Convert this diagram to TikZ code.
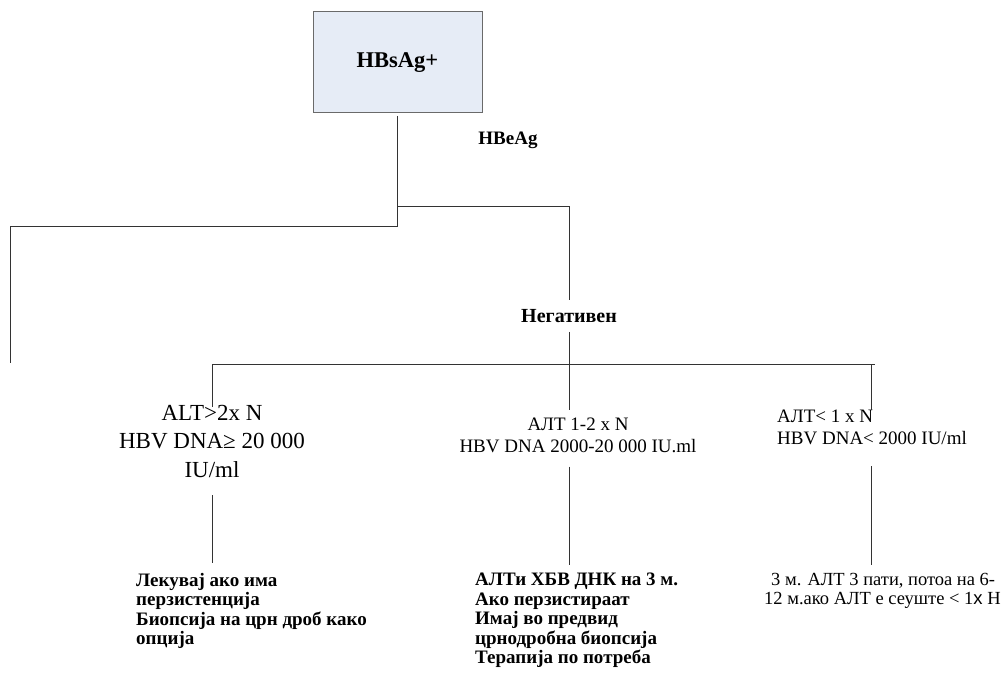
\documentclass[tikz,border=0pt]{standalone}
\usepackage{fontspec}
\setmainfont{Liberation Serif}
\newfontfamily\sansx{Liberation Sans}
\definecolor{boxblue}{HTML}{E6ECF6}
\definecolor{boxedge}{HTML}{6A6A6A}
\definecolor{wire}{HTML}{333333}
\begin{document}
\begin{tikzpicture}[x=1pt,y=-1pt,
  wireline/.style={draw=wire, line width=1pt},
  bigbold/.style={font=\bfseries\fontsize{22.5}{26}\selectfont},
  lblbold/.style={font=\bfseries\fontsize{19}{22}\selectfont, inner sep=0pt},
  condtxt/.style={font=\fontsize{23}{28.5}\selectfont, align=center, inner sep=0pt},
  midtxt/.style={font=\fontsize{19}{22}\selectfont, inner sep=0pt},
  actbold/.style={font=\bfseries\fontsize{19}{19.5}\selectfont, align=left, inner sep=0pt},
  actreg/.style={font=\fontsize{18.5}{19.5}\selectfont, align=left, inner sep=0pt}]
\useasboundingbox (0,0) rectangle (1008,684);
% root
\node[draw=boxedge, fill=boxblue, line width=1pt, minimum width=169pt, minimum height=101pt, bigbold] (root) at (397.5,62.5) {HBsAg+};
\node[lblbold] (hbe) at (508,140) {HBeAg};
\node[lblbold, font=\bfseries\fontsize{20}{22}\selectfont] (neg) at (569,316) {Негативен};
% coordinates
\coordinate (rs) at (397,116);
\coordinate (j1) at (397,227);
\coordinate (j2) at (397,207);
\coordinate (lt) at (10,227);
\coordinate (le) at (10,363);
\coordinate (nt) at (569,207);
\coordinate (bl) at (212,364);
\coordinate (br) at (875,364);
\coordinate (bx) at (871,364);
% condition texts
\node[condtxt] (ltxt) at (212,441) {ALT>2x N\\HBV DNA≥ 20 000\\IU/ml};
\node[midtxt, align=center] (mtxt) at (578,435) {АЛТ 1-2 x N\\HBV DNA 2000-20 000 IU.ml};
\node[midtxt, align=left, anchor=west] (rtxt) at (777,427) {АЛТ< 1 x N\\HBV DNA< 2000 IU/ml};
% action texts
\node[actbold, anchor=north west] (lact) at (136,573) {Лекувај ако има\\перзистенција\\Биопсија на црн дроб како\\опција};
\node[actbold, anchor=north west] (mact) at (475,573) {АЛТи ХБВ ДНК на 3 м.\\Ако перзистираат\\Имај во предвид\\црнодробна биопсија\\Терапија по потреба};
\node[actreg, anchor=north west] (ract) at (764,573) {\hspace{7pt}3 м. АЛТ 3 пати, потоа на 6-\\12 м.ако АЛТ е сеуште < 1{\sansx x} Н};
% connectors
\draw[wireline] (rs) -- (j1) -- (lt) -- (le);
\draw[wireline] (j2) -- (nt) -- ([yshift=9pt]neg.north);
\draw[wireline] ([yshift=-9pt]neg.south) -- (569,410);
\draw[wireline] (bl) -- (br);
\draw[wireline] (bl) -- (212,407);
\draw[wireline] (bx) -- (871,410);
\draw[wireline] ([yshift=-18pt]ltxt.south) -- ([yshift=-18pt-68pt]ltxt.south);
\draw[wireline] ([yshift=-14pt]mtxt.south -| 569,0) -- (569,565);
\draw[wireline] (871,466) -- (871,565);
\end{tikzpicture}
\end{document}
